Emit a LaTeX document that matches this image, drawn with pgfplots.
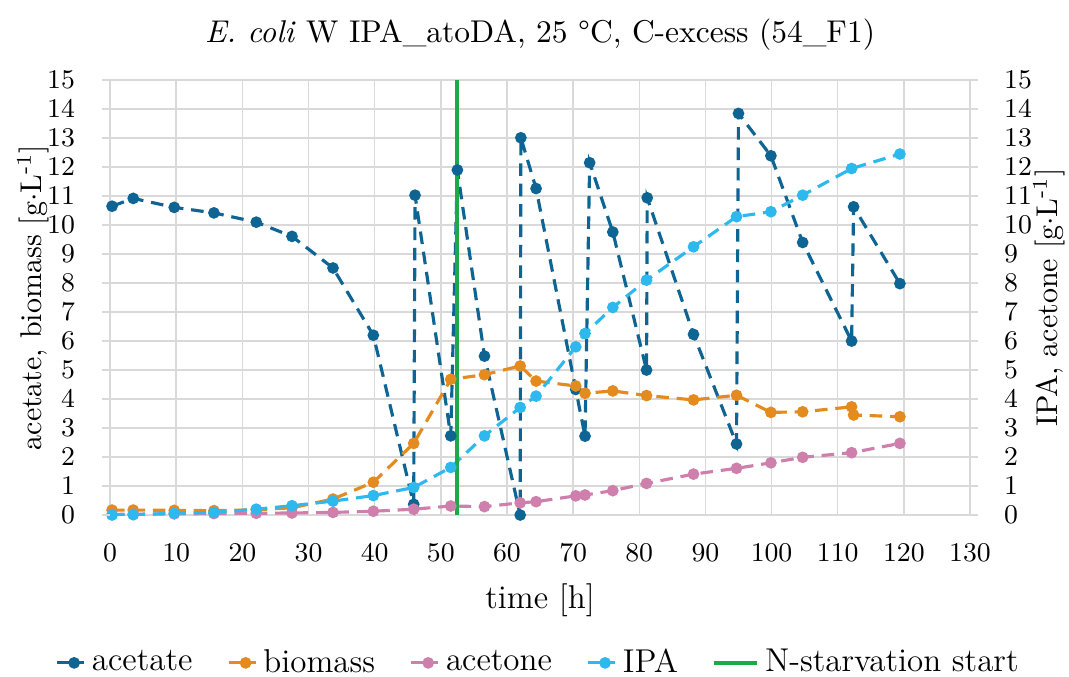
\documentclass[border=0pt]{standalone}
\usepackage{pgfplots}
\pgfplotsset{compat=1.18}
\definecolor{cacet}{HTML}{0E6593}
\definecolor{cbio}{HTML}{E38B1F}
\definecolor{cacetone}{HTML}{CF7FAC}
\definecolor{cipa}{HTML}{2EB9EE}
\definecolor{cgreen}{HTML}{1BAA4A}
\definecolor{cgrid}{HTML}{D9D9D9}
\begin{document}
\begin{tikzpicture}
\pgfplotsset{
  common/.style={
    scale only axis, width=286.7pt, height=145pt,
    xmin=0, xmax=130, ymin=0, ymax=15,
    xtick={0,10,...,130}, ytick={0,1,...,15},
    xtick style={draw=none},
    ytick style={draw=cgrid, line width=0.5pt},
    tick align=outside, major tick length=2.7pt,
    axis line style={draw=cgrid, line width=0.6pt},
    tick label style={font=\fontsize{9}{10}\selectfont},
  },
  ser/.style={#1, dashed, dash pattern=on 4.2pt off 2.6pt, line width=1.05pt,
    mark=*, mark size=1.4pt, mark options={solid, fill=#1, draw=#1},
    legend image code/.code={\draw[mark repeat=2, mark phase=2]
      plot coordinates {(0cm,0cm) (0.2cm,0cm) (0.32cm,0cm)};}},
}
\begin{axis}[common,
  grid=major, major grid style={draw=cgrid, line width=0.5pt},
  title={\textit{E. coli} W IPA\_atoDA, 25 \textdegree C, C-excess (54\_F1)},
  title style={at={(axis description cs:0.5,1)}, anchor=center, yshift=9pt,
    font=\fontsize{10.5}{12}\selectfont},
  xticklabel style={anchor=center, yshift=-9.8pt},
  yticklabel style={anchor=east, inner sep=0pt, xshift=-8.8pt},
  xlabel={time [h]},
  xlabel style={at={(axis description cs:0.5,0)}, anchor=center, yshift=-28.3pt,
    font=\fontsize{11}{13}\selectfont},
  ylabel={acetate, biomass [g$\cdot$L\textsuperscript{-1}]},
  ylabel style={at={(axis description cs:-0.0896,0.5)}, anchor=center,
    font=\fontsize{10}{12}\selectfont},
  legend style={at={(0.5,0)}, anchor=center, yshift=-49.3pt, draw=none, legend columns=5,
    font=\fontsize{11}{13}\selectfont, /tikz/every even column/.append style={column sep=9.5pt}},
  legend cell align=left,
]
\coordinate (SW) at (rel axis cs:0,0);
\coordinate (NE) at (rel axis cs:1,1);
\addplot[ser=cacet] coordinates {
(0.3,10.65) (3.5,10.92) (9.7,10.61) (15.7,10.42) (22.1,10.10) (27.5,9.61)
(33.7,8.52) (39.8,6.2) (45.9,0.37) (46.1,11.03) (51.5,2.73) (52.5,11.9)
(56.6,5.48) (62.0,0.0) (62.1,13.01) (64.4,11.26) (70.4,4.33) (71.8,2.72)
(72.5,12.15) (76.0,9.76) (81.1,5.0) (81.2,10.94) (88.2,6.23) (94.7,2.45)
(95.0,13.85) (99.9,12.39) (104.7,9.40) (112.1,6.0) (112.4,10.63) (119.4,7.98)};
\addlegendentry{acetate}
\addplot[ser=cbio] coordinates {
(0.3,0.17) (3.5,0.17) (9.7,0.16) (15.7,0.15) (22.1,0.18) (27.5,0.25)
(33.7,0.55) (39.8,1.13) (45.9,2.47) (51.5,4.68) (56.6,4.84) (62.0,5.14)
(64.4,4.62) (70.4,4.45) (71.8,4.2) (76.0,4.28) (81.1,4.12) (88.2,3.97)
(94.7,4.13) (99.9,3.54) (104.7,3.56) (112.1,3.73) (112.4,3.45) (119.4,3.39)};
\addlegendentry{biomass}
\addplot[ser=cacetone] coordinates {
(0.3,0.02) (3.5,0.03) (9.7,0.04) (15.7,0.05) (22.1,0.06) (27.5,0.07)
(33.7,0.09) (39.8,0.13) (45.9,0.2) (51.5,0.31) (56.6,0.29) (62.0,0.42)
(64.4,0.46) (70.4,0.66) (71.8,0.69) (76.0,0.84) (81.1,1.09) (88.2,1.41)
(94.7,1.61) (99.9,1.80) (104.7,1.99) (112.1,2.15) (119.4,2.47)};
\addlegendentry{acetone}
\addplot[ser=cipa] coordinates {
(0.3,0.0) (3.5,0.01) (9.7,0.06) (15.7,0.09) (22.1,0.2) (27.5,0.32)
(33.7,0.48) (39.8,0.67) (45.9,0.95) (51.5,1.64) (56.6,2.73) (62.0,3.71)
(64.4,4.10) (70.4,5.8) (71.8,6.26) (76.0,7.16) (81.1,8.1) (88.2,9.25)
(94.7,10.29) (99.9,10.46) (104.7,11.03) (112.1,11.95) (119.4,12.45)};
\addlegendentry{IPA}
\addplot[cgreen, line width=1.3pt, no marks,
  legend image code/.code={\draw[line width=1.3pt] (0cm,0cm) -- (0.5cm,0cm);}]
  coordinates {(52.5,0) (52.5,15)};
\addlegendentry{N-starvation start}
\end{axis}
\begin{axis}[common,
  axis x line=none,
  yticklabel pos=right,
  yticklabel style={anchor=west, inner sep=0pt, xshift=8.5pt},
  axis line style={draw=none},
  ylabel={IPA, acetone [g$\cdot$L\textsuperscript{-1}]},
  ylabel style={at={(axis description cs:1.0920,0.5)}, anchor=center, rotate=0,
    font=\fontsize{10}{12}\selectfont},
]
\end{axis}
\pgfresetboundingbox
\path ([xshift=-36.7pt,yshift=-54pt]SW) rectangle ([xshift=33pt,yshift=26.7pt]NE);
\end{tikzpicture}
\end{document}
